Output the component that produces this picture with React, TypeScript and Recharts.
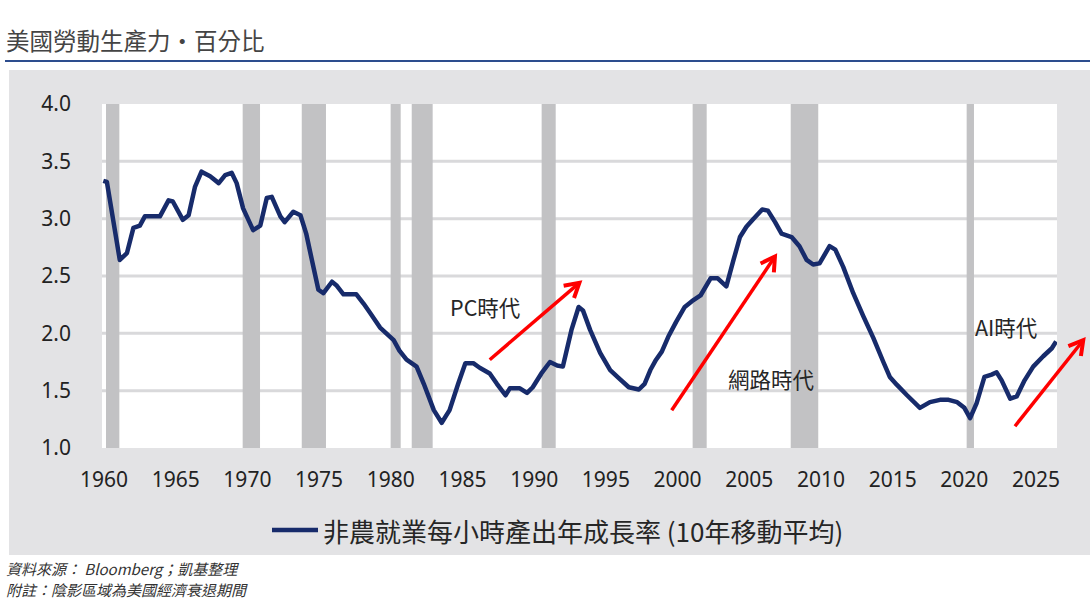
import React from 'react'
import {
  LineChart, Line, XAxis, YAxis, CartesianGrid, ReferenceArea,
  ReferenceLine, ReferenceDot, Legend,
} from 'recharts'

// 非農就業每小時產出年成長率 (10年移動平均), 年份以小數表示
const years = [
  1959.95, 1960.2, 1961.1, 1961.6, 1962.05, 1962.5, 1962.85, 1963.9, 1964.5, 1964.8,
  1965.5, 1965.9, 1966.35, 1966.8, 1967.4, 1968.0, 1968.45, 1968.9, 1969.25, 1969.7,
  1970.4, 1970.9, 1971.35, 1971.7, 1972.3, 1972.6, 1973.2, 1973.7, 1974.1, 1974.6,
  1974.95, 1975.3, 1975.9, 1976.2, 1976.7, 1977.6, 1978.1, 1978.55, 1979.25, 1980.2,
  1980.6, 1981.1, 1981.8, 1982.3, 1983.0, 1983.55, 1984.1, 1984.7, 1985.2, 1985.75,
  1986.2, 1986.9, 1987.4, 1988.0, 1988.3, 1989.0, 1989.5, 1989.9, 1990.5, 1991.1,
  1991.6, 1992.0, 1992.6, 1993.1, 1993.4, 1993.9, 1994.6, 1995.3, 1995.9, 1996.6,
  1997.3, 1997.7, 1998.1, 1998.5, 1998.9, 1999.35, 1999.9, 2000.5, 2001.0, 2001.6,
  2002.3, 2002.8, 2003.4, 2003.9, 2004.35, 2004.8, 2005.3, 2005.9, 2006.3, 2006.8,
  2007.25, 2007.95, 2008.5, 2009.0, 2009.45, 2009.9, 2010.6, 2011.0, 2011.55, 2012.25,
  2012.95, 2013.65, 2014.35, 2014.8, 2015.3, 2016.0, 2016.9, 2017.6, 2018.3, 2018.9,
  2019.5, 2020.0, 2020.4, 2020.85, 2021.4, 2021.9, 2022.25, 2022.6, 2023.2, 2023.65,
  2024.2, 2024.8, 2025.5, 2026.1, 2026.4,
]
const productivity = [
  3.33, 3.32, 2.64, 2.70, 2.92, 2.94, 3.02, 3.02, 3.16, 3.15,
  2.99, 3.03, 3.28, 3.41, 3.37, 3.31, 3.38, 3.40, 3.31, 3.09,
  2.90, 2.94, 3.18, 3.19, 3.02, 2.97, 3.06, 3.03, 2.87, 2.58,
  2.38, 2.35, 2.45, 2.42, 2.34, 2.34, 2.26, 2.18, 2.05, 1.94,
  1.85, 1.77, 1.71, 1.56, 1.33, 1.22, 1.33, 1.56, 1.74, 1.74,
  1.70, 1.65, 1.56, 1.46, 1.52, 1.52, 1.48, 1.53, 1.65, 1.75,
  1.72, 1.71, 2.03, 2.23, 2.20, 2.03, 1.83, 1.68, 1.61, 1.53,
  1.51, 1.56, 1.68, 1.77, 1.84, 1.97, 2.10, 2.23, 2.28, 2.33,
  2.48, 2.48, 2.41, 2.64, 2.84, 2.93, 3.00, 3.08, 3.07, 2.97,
  2.87, 2.84, 2.76, 2.64, 2.60, 2.61, 2.76, 2.73, 2.58, 2.35,
  2.15, 1.96, 1.75, 1.62, 1.55, 1.46, 1.35, 1.40, 1.42, 1.42,
  1.40, 1.35, 1.26, 1.39, 1.62, 1.64, 1.66, 1.59, 1.43, 1.45,
  1.59, 1.71, 1.80, 1.87, 1.93,
]

// 美國經濟衰退期間 (陰影)
const recessionStart = [1960.14, 1969.67, 1973.79, 1979.99, 1981.46, 1990.52, 2001.05, 2007.89, 2020.16]
const recessionEnd = [1961.07, 1970.88, 1975.48, 1980.69, 1982.92, 1991.5, 2002.03, 2009.81, 2020.67]

const xTicks = [1960, 1965, 1970, 1975, 1980, 1985, 1990, 1995, 2000, 2005, 2010, 2015, 2020, 2025]
const yTicks = [1.0, 1.5, 2.0, 2.5, 3.0, 3.5, 4.0]
const gridValues = [1.5, 2.0, 2.5, 3.0, 3.5]

// 紅色箭頭與標註
const eraNames = ['PC時代', '網路時代', 'AI時代']
const eraLabelX = [1984.13, 2003.51, 2020.74]
const eraLabelY = [2.23, 1.61, 2.06]
const arrowFrom = [[1986.9, 1.77], [1999.59, 1.33], [2023.53, 1.19]]
const arrowTo = [[1993.15, 2.44], [2006.79, 2.67], [2028.29, 1.94]]

const data = years.map((y, i) => ({ year: y, value: productivity[i] }))

const CJK = '"Noto Sans CJK TC", "Noto Sans", sans-serif'
const NUM = '"Noto Sans", "Noto Sans CJK TC", sans-serif'
const NAVY = '#172b6b'
const RED = '#ff0000'

function Arrow(p: any) {
  const { x1, y1, x2, y2 } = p
  const ang = Math.atan2(y2 - y1, x2 - x1)
  const L = 16
  const s = Math.PI / 6
  const ax = x2 - L * Math.cos(ang - s)
  const ay = y2 - L * Math.sin(ang - s)
  const bx = x2 - L * Math.cos(ang + s)
  const by = y2 - L * Math.sin(ang + s)
  return (
    <g>
      <line x1={x1} y1={y1} x2={x2} y2={y2} stroke={RED} strokeWidth={3.5} />
      <polyline
        points={`${ax},${ay} ${x2},${y2} ${bx},${by}`}
        fill="none"
        stroke={RED}
        strokeWidth={4}
        strokeLinejoin="miter"
      />
    </g>
  )
}

function LegendBox() {
  return (
    <div style={{ height: 30, display: 'flex', alignItems: 'center', paddingLeft: 263 }}>
      <svg width={46} height={8} style={{ marginRight: 5 }}>
        <line x1={0} y1={4} x2={46} y2={4} stroke={NAVY} strokeWidth={4.5} />
      </svg>
      <span style={{ fontFamily: CJK, fontSize: 26, color: '#262626', whiteSpace: 'nowrap' }}>
        非農就業每小時產出年成長率 (10年移動平均)
      </span>
    </div>
  )
}

export default function App() {
  return (
    <div style={{ position: 'absolute', left: 0, top: 0, width: 1090, height: 603, background: '#fff', overflow: 'hidden' }}>
      <div style={{ position: 'absolute', left: 6, top: 28, fontFamily: CJK, fontSize: 23.5, lineHeight: '24px', color: '#444', whiteSpace: 'nowrap' }}>
        美國勞動生產力‧百分比
      </div>
      <div style={{ position: 'absolute', left: 5, top: 60, width: 1085, height: 2, background: '#2d4d8e' }} />

      <div style={{ position: 'absolute', left: 9, top: 70, width: 1081, height: 485, background: '#e3e3e5' }}>
        <LineChart width={1081} height={485} data={data} margin={{ top: 34, right: 33, left: 0, bottom: 10 }}>
          <CartesianGrid
            horizontal
            vertical={false}
            fill="#ffffff"
            stroke="#d9d9db"
            strokeWidth={3}
            horizontalValues={gridValues}
          />
          {recessionStart.map((s, i) => (
            <ReferenceArea
              key={s}
              x1={s}
              x2={recessionEnd[i]}
              y1={1}
              y2={4}
              fill="#c2c2c4"
              fillOpacity={1}
              stroke="none"
            />
          ))}
          <XAxis
            dataKey="year"
            type="number"
            domain={[1959.86, 2026.46]}
            ticks={xTicks}
            allowDataOverflow
            axisLine={false}
            tickLine={false}
            tickSize={0}
            tickMargin={24}
            height={67}
            tick={{ fontSize: 21, fill: '#222', fontFamily: NUM }}
            interval={0}
          />
          <YAxis
            type="number"
            domain={[1, 4]}
            ticks={yTicks}
            allowDataOverflow
            axisLine={false}
            tickLine={false}
            tickSize={0}
            tickMargin={31}
            width={93}
            tick={{ fontSize: 21, fill: '#222', fontFamily: NUM }}
            tickFormatter={(v: number) => v.toFixed(1)}
          />
          <Legend verticalAlign="bottom" align="left" content={() => <LegendBox />} />
          <Line
            type="linear"
            dataKey="value"
            stroke={NAVY}
            strokeWidth={4.5}
            strokeLinejoin="round"
            dot={false}
            activeDot={false}
            isAnimationActive={false}
          />
          {arrowFrom.map((f, i) => (
            <ReferenceLine
              key={`arrow-${i}`}
              segment={[{ x: f[0], y: f[1] }, { x: arrowTo[i][0], y: arrowTo[i][1] }]}
              ifOverflow="visible"
              shape={Arrow}
            />
          ))}
          {eraNames.map((name, i) => (
            <ReferenceDot
              key={name}
              x={eraLabelX[i]}
              y={eraLabelY[i]}
              r={0}
              ifOverflow="visible"
              shape={(p: any) => (
                <text
                  x={p.cx}
                  y={p.cy}
                  dominantBaseline="central"
                  fontFamily={CJK}
                  fontSize={21.5}
                  fill="#262626"
                >
                  {name}
                </text>
              )}
            />
          ))}
        </LineChart>
      </div>

      <div style={{ position: 'absolute', left: 6, top: 558, fontFamily: CJK, fontSize: 15, lineHeight: '21px', fontStyle: 'italic', color: '#333', whiteSpace: 'nowrap' }}>
        <div>資料來源： Bloomberg；凱基整理</div>
        <div>附註：陰影區域為美國經濟衰退期間</div>
      </div>
    </div>
  )
}
